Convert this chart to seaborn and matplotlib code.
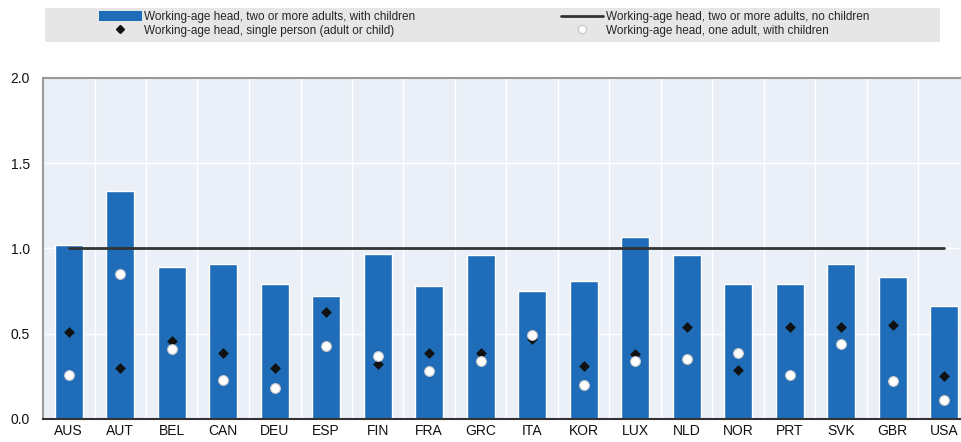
import numpy as np
import pandas as pd
import matplotlib
matplotlib.use("Agg")
import matplotlib.pyplot as plt
from matplotlib.lines import Line2D
from matplotlib.patches import Patch, Rectangle
import seaborn as sns

countries = ["AUS", "AUT", "BEL", "CAN", "DEU", "ESP", "FIN", "FRA", "GRC",
             "ITA", "KOR", "LUX", "NLD", "NOR", "PRT", "SVK", "GBR", "USA"]
two_adults_children = [1.02, 1.34, 0.89, 0.91, 0.79, 0.72, 0.97, 0.78, 0.96,
                       0.75, 0.81, 1.07, 0.96, 0.79, 0.79, 0.91, 0.83, 0.66]
two_adults_no_children = [1.0] * 18
single_person = [0.51, 0.30, 0.46, 0.39, 0.30, 0.63, 0.32, 0.39, 0.39,
                 0.47, 0.31, 0.38, 0.54, 0.29, 0.54, 0.54, 0.55, 0.25]
one_adult_children = [0.26, 0.85, 0.41, 0.23, 0.18, 0.43, 0.37, 0.28, 0.34,
                      0.49, 0.20, 0.34, 0.35, 0.39, 0.26, 0.44, 0.22, 0.11]
y_ticks = [0.0, 0.5, 1.0, 1.5, 2.0]

labels = ["Working-age head, two or more adults, with children",
          "Working-age head, two or more adults, no children",
          "Working-age head, single person (adult or child)",
          "Working-age head, one adult, with children"]

sns.set_theme(style="white")
plt.rcParams["font.family"] = ["Liberation Sans", "DejaVu Sans"]

BAR = "#1f6db8"
BG = "#eaeff8"

df = pd.DataFrame({"country": countries, "two": two_adults_children,
                   "single": single_person, "one": one_adult_children})

fig = plt.figure(figsize=(9.62, 4.42), dpi=100)
W, H = 962, 442
ax = fig.add_axes([43 / W, 1 - 419 / H, 927 / W, 341 / H])
ax.set_facecolor(BG)

sns.barplot(data=df, x="country", y="two", color=BAR, width=0.55,
            saturation=1, ax=ax, zorder=2)
sns.lineplot(x=np.arange(len(countries)), y=two_adults_no_children,
             color="#333333", linewidth=2, ax=ax, zorder=3)
sns.stripplot(data=df, x="country", y="single", jitter=False, marker="D",
              color="#111111", size=5.5, linewidth=0, ax=ax, zorder=4)
sns.stripplot(data=df, x="country", y="one", jitter=False, marker="o",
              color="white", edgecolor="#cccccc", linewidth=0.8, size=7,
              ax=ax, zorder=5)

ax.set_xlim(-0.5, len(countries) - 0.5)
ax.set_ylim(0, 2.0)
ax.set_yticks(y_ticks)
ax.set_yticklabels([f"{v:.1f}" for v in y_ticks])
ax.set_xlabel("")
ax.set_ylabel("")

# white grid between categories and at y ticks
for xv in np.arange(len(countries) - 1) + 0.5:
    ax.axvline(xv, color="white", linewidth=1.0, zorder=1)
for yv in y_ticks[1:-1]:
    ax.axhline(yv, color="white", linewidth=1.0, zorder=1)

for s in ["left", "top"]:
    ax.spines[s].set_color("#999999")
    ax.spines[s].set_linewidth(1.5)
ax.spines["right"].set_visible(False)
ax.spines["bottom"].set_color("#333333")
ax.spines["bottom"].set_linewidth(1.5)
ax.tick_params(axis="both", length=0, labelsize=10, colors="#111111")
ax.tick_params(axis="x", pad=3.5)
ax.tick_params(axis="y", pad=9.5)

# legend band
fig.patches.append(Rectangle((45 / W, 1 - 42 / H), 895 / W, 34 / H,
                             transform=fig.transFigure, facecolor="#e6e6e6",
                             edgecolor="none", zorder=0))
handles1 = [Patch(facecolor=BAR, edgecolor="none"),
            Line2D([], [], marker="D", color="#111111", linestyle="none",
                   markersize=4)]
handles2 = [Line2D([], [], color="#333333", linewidth=2),
            Line2D([], [], marker="o", color="white", markeredgecolor="#cccccc",
                   linestyle="none", markersize=6)]
common = dict(loc="upper left", frameon=False, fontsize=8.5,
              handlelength=3.6, handleheight=0.9, handletextpad=0.2,
              labelspacing=0.15, borderaxespad=0, borderpad=0)
fig.legend(handles1, [labels[0], labels[2]],
           bbox_to_anchor=(99 / W, 1 - 11 / H), **common)
fig.legend(handles2, [labels[1], labels[3]],
           bbox_to_anchor=(561 / W, 1 - 11 / H), **common)

fig.savefig("out.png", dpi=100, facecolor="white")
